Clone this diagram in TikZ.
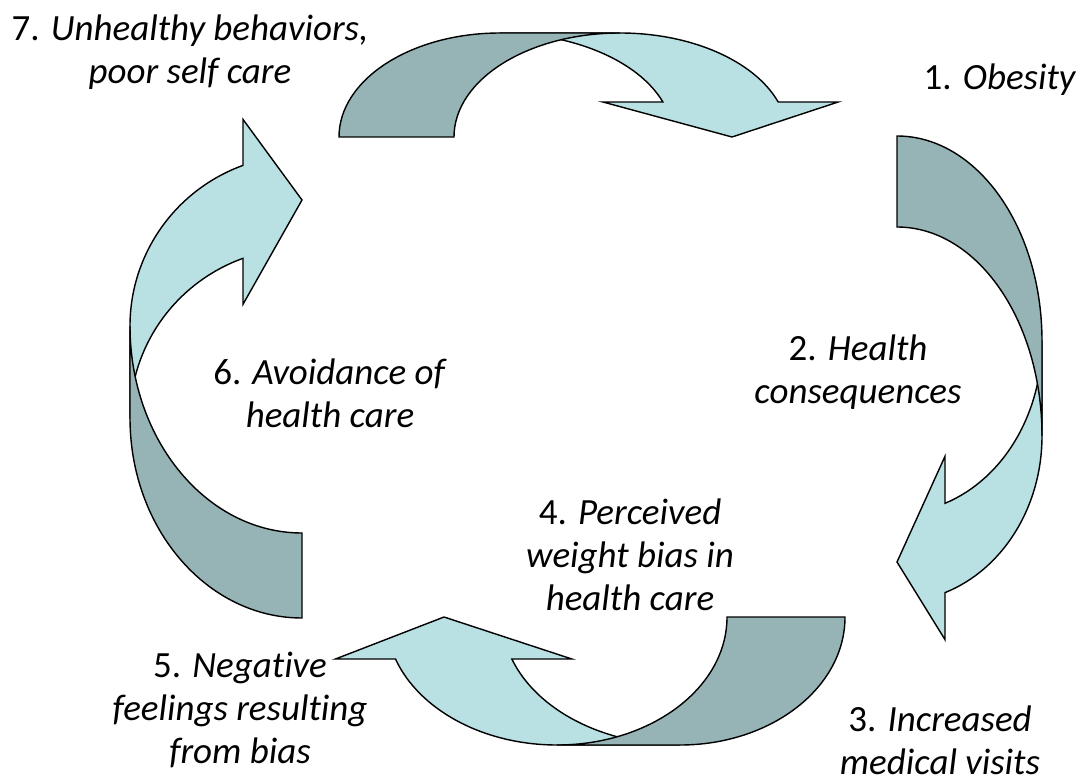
\documentclass[tikz,border=0pt]{standalone}
\usepackage{fontspec}
\setmainfont[Ligatures=NoCommon]{Carlito}
\usepackage{tikz}

\definecolor{bandlight}{RGB}{185,224,227}
\definecolor{banddark}{RGB}{150,180,182}

\tikzset{
    lightband/.style={fill=bandlight, draw=black, line width=1pt, line join=miter},
    darkband/.style={fill=banddark, draw=black, line width=1pt, line join=miter},
    lbl/.style={align=center, inner sep=0pt, font=\fontsize{26.3}{30.5}\selectfont}
}

% #1 height, #2 back radius, #3 top end, #4 back width,
% #5 inner radius, #6 outer radius, #7 head base, #8 head overhang, #9 tip
\newcommand{\curvedarrow}[9]{%
    \pgfmathsetmacro{\headang}{asin(#7/#1)}
    \pgfmathsetmacro{\headin}{#2+#5*cos(\headang)}
    \pgfmathsetmacro{\headout}{#3+#6*cos(\headang)}
    \filldraw[lightband] (#2,#1) -- (#3,#1)
        arc[start angle=90, end angle=\headang, x radius=#6, y radius=#1]
        -- (\headout+#8,#7) -- (#9,0) -- (\headin-#8,#7) -- (\headin,#7)
        arc[start angle=\headang, end angle=90, x radius=#5, y radius=#1] -- cycle;
    \filldraw[darkband] (0,0)
        arc[start angle=180, end angle=90, x radius=#2, y radius=#1] -- (#3,#1)
        arc[start angle=90, end angle=180, x radius=#3-#4, y radius=#1] -- cycle;
}

\begin{document}
\begin{tikzpicture}[x=0.025cm, y=0.025cm]
    \useasboundingbox (0,0) rectangle (1080,-782);

    % Curved arrows of the cycle
    \begin{scope}[shift={(339,-137)}]
        \curvedarrow{104}{161}{281}{115}{173}{168}{35}{60}{393}
    \end{scope}
    \begin{scope}[shift={(897,-136)}, rotate=-90]
        \curvedarrow{145}{205}{300}{91}{172}{166}{48}{47}{426}
    \end{scope}
    \begin{scope}[shift={(845,-617)}, rotate=180]
        \curvedarrow{128}{165}{288}{118}{178}{171}{42}{60}{401}
    \end{scope}
    \begin{scope}[shift={(302,-618)}, rotate=90]
        \curvedarrow{172}{200}{292}{85}{170}{171}{59}{46}{418}
    \end{scope}

    % Stages
    \node[lbl] (obesity) at (1000,-80) {1. \textit{Obesity}};
    \node[lbl] (health) at (858,-372) {2. \textit{Health}\\\textit{consequences}};
    \node[lbl] (visits) at (940,-740) {3. \textit{Increased}\\\textit{medical visits}};
    \node[lbl] (bias) at (630,-555) {4. \textit{Perceived}\\\textit{weight bias in}\\\textit{health care}};
    \node[lbl] (feelings) at (240,-710) {5. \textit{Negative}\\\textit{feelings resulting}\\\textit{from bias}};
    \node[lbl] (avoid) at (330,-393) {6. \textit{Avoidance of}\\\textit{health care}};
    \node[lbl] (behave) at (190,-52) {7. \textit{Unhealthy behaviors,}\\\textit{poor self care}};
\end{tikzpicture}
\end{document}
